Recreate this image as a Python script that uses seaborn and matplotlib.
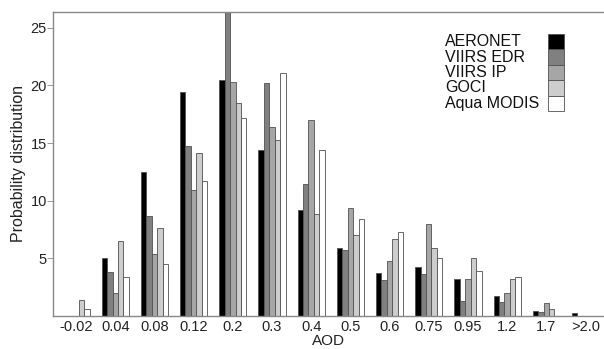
import pandas as pd
import matplotlib
matplotlib.use("Agg")
import matplotlib.pyplot as plt
import seaborn as sns

# AOD bins and probability distribution (%) per product
aod_bins = ["-0.02", "0.04", "0.08", "0.12", "0.2", "0.3", "0.4",
            "0.5", "0.6", "0.75", "0.95", "1.2", "1.7", ">2.0"]
aeronet = [0.0, 5.0, 12.5, 19.4, 20.5, 14.4, 9.2, 5.9, 3.7, 4.2, 3.2, 1.7, 0.4, 0.2]
viirs_edr = [0.0, 3.8, 8.7, 14.7, 27.5, 20.2, 11.4, 5.7, 3.1, 3.6, 1.3, 1.2, 0.3, 0.0]
viirs_ip = [0.0, 2.0, 5.4, 10.9, 20.3, 16.4, 17.0, 9.4, 4.8, 8.0, 3.2, 2.0, 1.1, 0.0]
goci = [1.4, 6.5, 7.6, 14.1, 18.5, 15.3, 8.8, 7.0, 6.7, 5.9, 5.0, 3.2, 0.6, 0.0]
aqua_modis = [0.6, 3.4, 4.5, 11.7, 17.2, 21.1, 14.4, 8.4, 7.3, 5.0, 3.9, 3.4, 0.0, 0.0]

products = ["AERONET", "VIIRS EDR", "VIIRS IP", "GOCI", "Aqua MODIS"]
colors = ["#000000", "#808080", "#a6a6a6", "#cdcdcd", "#ffffff"]

series = [aeronet, viirs_edr, viirs_ip, goci, aqua_modis]
rows = []
for name, vals in zip(products, series):
    for b, v in zip(aod_bins, vals):
        rows.append({"AOD": b, "Product": name, "Value": v})
df = pd.DataFrame(rows)

sns.set_style("white")
plt.rcParams["font.family"] = ["Liberation Sans", "DejaVu Sans"]

W, H = 604, 349
fig = plt.figure(figsize=(W / 100, H / 100), dpi=100)
ax = fig.add_axes([53 / W, 1 - 315.8 / H, 1 - 53 / W, (315.8 - 11.7) / H])

sns.barplot(data=df, x="AOD", y="Value", hue="Product", order=aod_bins,
            hue_order=products, palette=colors, width=0.69,
            edgecolor="#505050", linewidth=0.6, ax=ax)

ax.set_xlim(-0.587, 13.47)
ax.set_ylim(0, 26.4)
ax.set_yticks([5, 10, 15, 20, 25])
ax.tick_params(axis="y", which="both", left=True, length=4, width=0.6,
               color="#888888", labelsize=10.5, labelcolor="#222222", pad=0.5)
ax.tick_params(axis="x", bottom=False, length=0, labelsize=10.5,
               labelcolor="#222222", pad=3)

for side in ["left", "top", "bottom"]:
    ax.spines[side].set_color("#888888")
    ax.spines[side].set_linewidth(1.0)
ax.spines["right"].set_visible(False)

ax.set_xlabel("AOD", fontsize=11, color="#222222", labelpad=0)
ax.set_ylabel("Probability distribution", fontsize=11.5, color="#222222", labelpad=3)

# legend: swatches stacked in one column, names left-aligned beside them
row_h = 15.4          # px per legend row
leg_fs = 6            # pt, small so the swatch sets the row height
h_pt = row_h * 72 / 100
# matplotlib drops 0.35*fs*(hh-0.7) of the handle height as descent
hh = (h_pt / leg_fs - 0.245) / 0.65
handles, _ = ax.get_legend_handles_labels()
leg = ax.legend(handles, [""] * len(products), loc="upper left",
                bbox_to_anchor=(548 / W, 1 - 34 / H), bbox_transform=fig.transFigure,
                frameon=False, labelspacing=0.0, handlelength=16 * 0.72 / leg_fs,
                handleheight=hh, handletextpad=0.0, borderpad=0.0,
                borderaxespad=0.0, fontsize=leg_fs)
for h in leg.legend_handles:
    h.set_edgecolor("#505050")
    h.set_linewidth(0.6)

for i, name in enumerate(products):
    fig.text(445 / W, 1 - (34 + row_h * (i + 0.5)) / H, name, fontsize=11.5,
             color="#111111", ha="left", va="center")

fig.savefig("out.png", dpi=100)
